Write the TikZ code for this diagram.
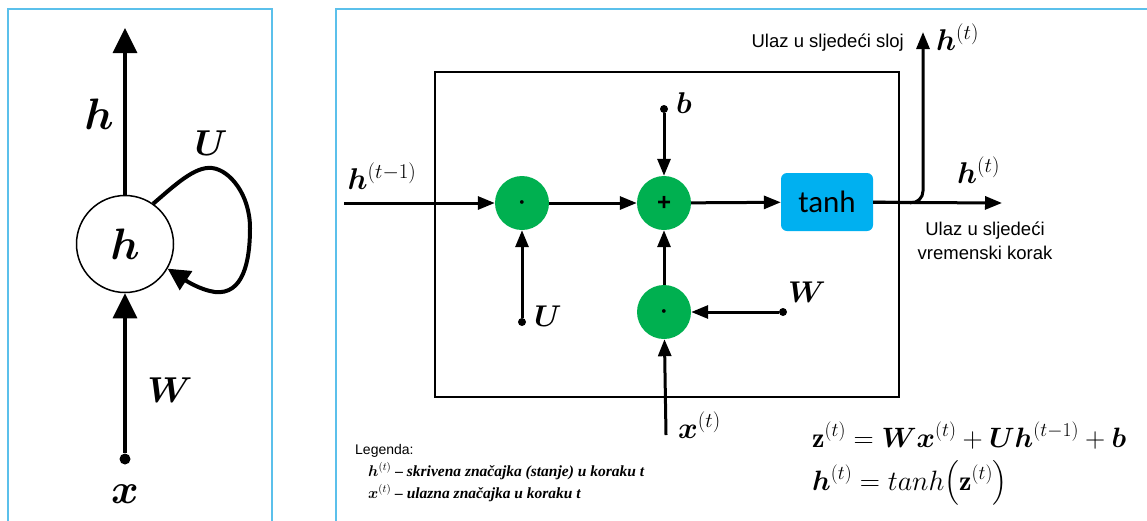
\RequirePackage{fix-cm}
\documentclass[tikz,border=0pt]{standalone}
\usepackage{amsmath}
\usepackage{bm}
\usepackage{fontspec}
\setsansfont{Liberation Sans}
\newfontfamily\tanhfont{Carlito}
\newfontfamily\legfont{Liberation Serif}
\usetikzlibrary{arrows.meta}
\definecolor{frameblue}{RGB}{91,192,235}
\definecolor{opgreen}{RGB}{0,176,80}
\definecolor{tanhblue}{RGB}{0,176,240}

\begin{document}
\begin{tikzpicture}[x=1pt,y=-1pt,
    arr/.style={line width=3pt,-{Triangle[length=17pt,width=13pt]}},
    bigarr/.style={line width=3.5pt,-{Triangle[length=25pt,width=24pt]}},
    op/.style={circle,fill=opgreen,minimum size=54pt,inner sep=0pt,font=\sffamily\bfseries\fontsize{24}{24}\selectfont},
    pin/.style={circle,fill=black,inner sep=0pt,minimum size=8pt},
    bigpin/.style={circle,fill=black,inner sep=0pt,minimum size=11pt},
    sym/.style={inner sep=0pt,font=\fontsize{30}{30}\selectfont},
    bigsym/.style={inner sep=0pt,font=\fontsize{42}{42}\selectfont},
    note/.style={inner sep=0pt,font=\sffamily\fontsize{18.5}{24}\selectfont},
    legitem/.style={inner sep=0pt,anchor=base west,font=\legfont\bfseries\itshape\fontsize{15.5}{15.5}\selectfont},
    eqline/.style={inner sep=0pt,anchor=base west,font=\fontsize{28}{28}\selectfont},
    tanhbox/.style={fill=tanhblue,rounded corners=6pt,minimum width=92pt,minimum height=58pt,
      inner sep=0pt,font=\tanhfont\fontsize{31}{31}\selectfont}]
  \useasboundingbox[fill=white] (0,0) rectangle (1147,520);

  % frames
  \draw[frameblue,line width=1.5pt] (8,521) |- (272,9) -- (272,521);
  \draw[frameblue,line width=1.5pt] (336,521) |- (1148,9);

  % folded cell
  \node[circle,draw,line width=1.5pt,minimum size=97pt,inner sep=0pt,
        font=\fontsize{44}{44}\selectfont] (hcell) at (125,244) {$\bm{h}$};
  \node[bigpin] (xpin) at (125,459) {};
  \coordinate (hout) at (125,28);
  \draw[bigarr] (hcell.north) -- (hout);
  \draw[bigarr] (xpin) -- (hcell.south);
  \draw[line width=4pt,-{Triangle[length=22pt,width=22pt]}]
    (hcell.55) .. controls (175,185) and (195,166) .. (212,168)
    .. controls (230,170) and (250,195) .. (250,228)
    .. controls (250,262) and (243,295) .. (215,292)
    .. controls (200,290) and (185,280) .. (hcell.-30);
  \node[bigsym,font=\fontsize{44}{44}\selectfont] (hlab) at (99,114) {$\bm{h}$};
  \node[sym,font=\fontsize{36}{36}\selectfont] (ulab) at (211,143) {$\bm{U}$};
  \node[sym,font=\fontsize{36}{36}\selectfont] (wlab) at (170,390) {$\bm{W}$};
  \node[bigsym] (xlab) at (125,494) {$\bm{x}$};

  % unfolded cell
  \draw[line width=1.5pt] (435,72) rectangle (899,397);
  \node[op] (mulu) at (522,203) {$\bm{\cdot}$};
  \node[op] (add) at (664,203) {+};
  \node[op] (mulw) at (664,312) {$\bm{\cdot}$};
  \node[tanhbox] (tanh) at (827,202) {tanh};
  \node[pin] (bpin) at (664,109) {};
  \node[pin] (upin) at (522,322) {};
  \node[pin] (wpin) at (783,312) {};
  \coordinate (hprev) at (344,203);
  \coordinate (xin) at (666,435);
  \coordinate (hnext) at (1002,203);
  \coordinate (hup) at (923,32);

  \draw[arr] (hprev) -- (mulu);
  \draw[arr] (mulu) -- (add);
  \draw[arr] (add) -- (tanh);
  \draw[arr] (bpin) -- (add);
  \draw[arr] (upin) -- (mulu);
  \draw[arr] (mulw) -- (add);
  \draw[arr] (wpin) -- (mulw);
  \draw[arr] (xin) -- (mulw);
  \draw[arr] (tanh) -- (hnext);
  \draw[arr,rounded corners=12pt] (tanh.east) -- (923,203) -- (hup);

  \node[sym,anchor=base] (hprevlab) at (382,189) {$\bm{h}^{(t-1)}$};
  \node[sym,anchor=base west] (blab) at (676,113) {$\bm{b}$};
  \node[sym,anchor=base west] (ulab2) at (534,326) {$\bm{U}$};
  \node[sym,anchor=base west] (wlab2) at (788,302) {$\bm{W}$};
  \node[sym,anchor=base west] (xtlab) at (678,438) {$\bm{x}^{(t)}$};
  \node[sym,anchor=base west] (huplab) at (936,50) {$\bm{h}^{(t)}$};
  \node[sym,anchor=base west] (hnextlab) at (957,183) {$\bm{h}^{(t)}$};
  \node[note,anchor=base east] (uplab) at (904,47) {Ulaz u sljede\'ci sloj};
  \node[note,align=center] (nextlab) at (985,241) {Ulaz u sljede\'ci\\vremenski korak};

  % legend
  \node[inner sep=0pt,anchor=base west,font=\sffamily\fontsize{14}{16}\selectfont] (leg) at (355,454) {Legenda:};
  \node[legitem] (legh) at (368,476) {$\bm{h}^{(t)}$ \textendash{} skrivena zna\v{c}ajka (stanje) u koraku t};
  \node[legitem] (legx) at (368,498) {$\bm{x}^{(t)}$ \textendash{} ulazna zna\v{c}ajka u koraku t};

  % equations
  \node[eqline] (eqz) at (812,447) {$\mathbf{z}^{(t)} = \bm{W}\bm{x}^{(t)} + \bm{U}\bm{h}^{(t-1)} + \bm{b}$};
  \node[eqline] (eqh) at (812,490) {$\bm{h}^{(t)} = tanh\bigl(\mathbf{z}^{(t)}\bigr)$};
\end{tikzpicture}
\end{document}
